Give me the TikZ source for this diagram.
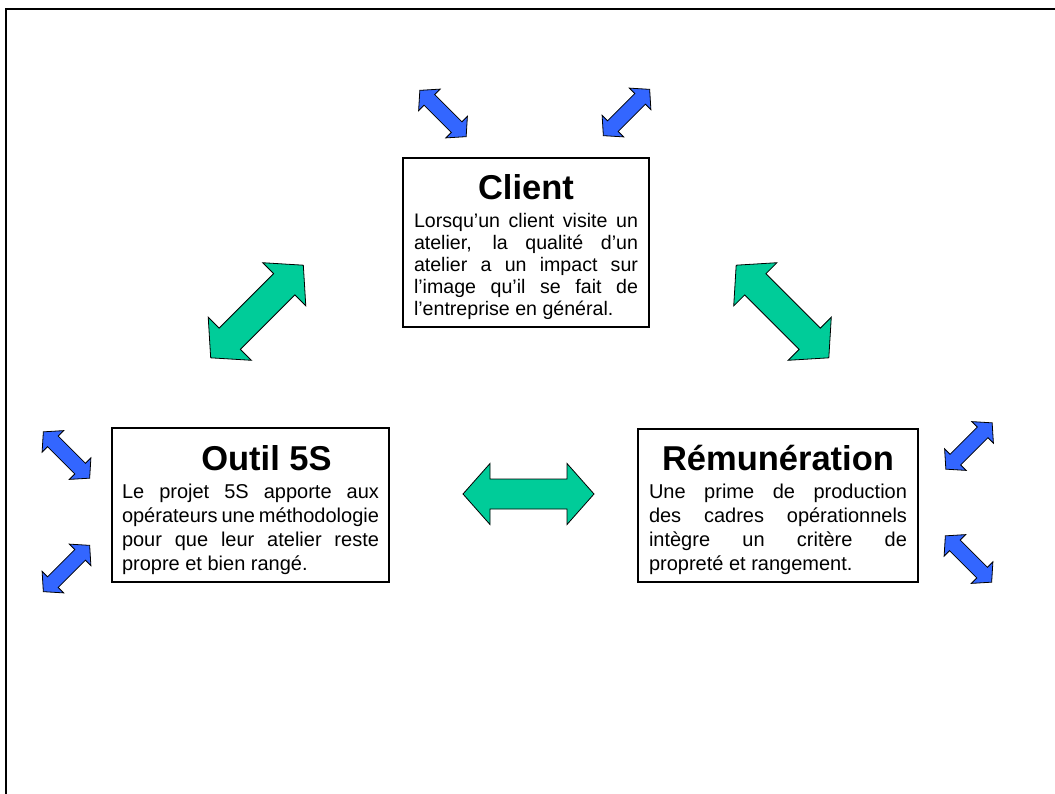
\documentclass[tikz,border=0pt]{standalone}
\usepackage{fontspec}
\setmainfont{Liberation Sans}
\definecolor{verde}{RGB}{0,204,153}
\definecolor{blu}{RGB}{51,102,255}
\hbadness=10000
\hyphenpenalty=10000
\tikzset{
  cadre/.style={draw, line width=2pt, align=justify, inner xsep=11pt, inner ysep=7pt,
    font=\fontsize{20}{24}\selectfont},
  freccia/.style={draw, line width=0.8pt, line join=miter}
}
\newcommand{\titolo}[1]{{\centering\bfseries\fontsize{34.5}{40}\selectfont
  \vrule height 35pt depth 0pt width 0pt\smash{#1}\par}\vspace{\dimexpr28pt-\baselineskip\relax}}
% freccia doppia: centro, angolo, scala, colore
\newcommand{\doppia}[4]{%
  \begin{scope}[shift={#1},rotate=#2,scale=#3]
    \filldraw[freccia,fill=#4] (-65.5,0)--(-38.5,30.5)--(-38.5,15)--(38.5,15)--(38.5,30.5)--(65.5,0)
      --(38.5,-30.5)--(38.5,-15)--(-38.5,-15)--(-38.5,-30.5)--cycle;
  \end{scope}}
\begin{document}
\begin{tikzpicture}[x=1pt,y=-1pt]
    \useasboundingbox (0,0) rectangle (1055,793);
    %cornice
    \draw[line width=2.5pt] (6,810)--(6,9)--(1070,9);

    %riquadri
    \node[cadre, text width=224pt, font=\fontsize{19.6}{22}\selectfont] (client) at (526,242.5)
      {\titolo{Client}Lorsqu'un client visite un\linebreak atelier, la qualité d'un\linebreak
       atelier a un impact sur\linebreak l'image qu'il se fait de\linebreak l'entreprise en général.};
    \node[cadre, text width=257pt, inner xsep=10pt] (outil) at (250.5,505)
      {\titolo{\hspace*{32pt}Outil 5S}Le projet 5S apporte aux\linebreak opérateurs une méthodologie\linebreak
       pour que leur atelier reste\linebreak propre et bien rangé.};
    \node[cadre, text width=258pt] (remun) at (778,505.5)
      {\titolo{Rémunération}Une prime de production\linebreak des cadres opérationnels\linebreak
       intègre un critère de\linebreak propreté et rangement.};

    %frecce verdi
    \doppia{(257,311.5)}{45}{1}{verde}
    \doppia{(782.5,311.5)}{-45}{1}{verde}
    \doppia{(528.5,494)}{0}{1}{verde}

    %frecce blu
    \doppia{(443,113.5)}{-45}{0.5}{blu}
    \doppia{(626.5,112.5)}{45}{0.5}{blu}
    \doppia{(66.5,455)}{-45}{0.5}{blu}
    \doppia{(66.5,568.5)}{45}{0.5}{blu}
    \doppia{(969,446)}{45}{0.5}{blu}
    \doppia{(968.5,559)}{-45}{0.5}{blu}
\end{tikzpicture}
\end{document}
